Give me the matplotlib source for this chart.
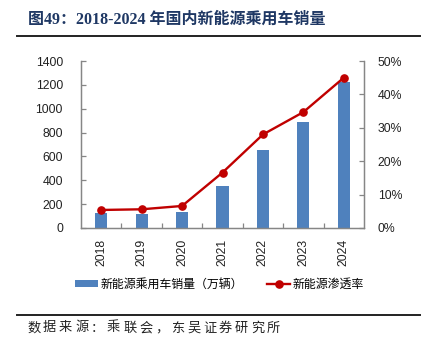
import matplotlib
matplotlib.use("Agg")
import matplotlib.pyplot as plt
import numpy as np
from matplotlib.ticker import FuncFormatter

plt.rcParams['font.family'] = ['Liberation Sans', 'Noto Sans CJK SC']

# --- data ---
years = ['2018', '2019', '2020', '2021', '2022', '2023', '2024']
sales = [125, 120, 131, 351, 650, 890, 1225]          # 万辆
penetration = [5.4, 5.6, 6.6, 16.6, 28.0, 34.7, 45.0]  # %

bar_label = '新能源乘用车销量（万辆）'
line_label = '新能源渗透率'
title = '图49：2018-2024 年国内新能源乘用车销量'
source = '数据来源：乘联会，东吴证券研究所'

BLUE = '#4F81BD'
RED = '#C00000'
AXC = '#868686'
NAVY = '#1F3864'

W, H = 422, 355
fig = plt.figure(figsize=(W/100, H/100), dpi=100)

ax = fig.add_axes([81/W, 1-228/H, (364-81)/W, (228-61)/H])
x = np.arange(len(years))
bars = ax.bar(x, sales, width=0.3, color=BLUE, label=bar_label, zorder=2)
ax.set_xlim(-0.5, len(years)-0.5)
ax.set_ylim(0, 1400)
ax.set_yticks(np.arange(0, 1401, 200))

ax2 = ax.twinx()
line, = ax2.plot(x, penetration, color=RED, lw=1.7, marker='o', ms=5.2,
                 label=line_label, zorder=3)
ax2.set_ylim(0, 50)
ax2.set_yticks(np.arange(0, 51, 10))
ax2.yaxis.set_major_formatter(FuncFormatter(lambda v, p: f'{int(v)}%'))

for a in (ax, ax2):
    for s in a.spines.values():
        s.set_color(AXC)
        s.set_linewidth(0.9)
    a.spines['top'].set_visible(False)

ax.set_xticks(x)
ax.set_xticklabels(years, rotation=90)
ax.set_xticks(np.arange(0.5, len(years)-0.5, 1), minor=True)
ax.tick_params(axis='x', which='major', length=0, pad=8, labelsize=8.8, labelcolor='#222222')
ax.tick_params(axis='x', which='minor', direction='in', length=3.5, color=AXC, width=0.9)
ax.tick_params(axis='y', direction='in', length=3.5, color=AXC, width=0.9,
               pad=13, labelsize=8.8, labelcolor='#222222')
ax2.tick_params(axis='y', direction='in', length=3.5, color=AXC, width=0.9,
                pad=10, labelsize=8.8, labelcolor='#222222')

fig.legend(handles=[bars, line], labels=[bar_label, line_label],
           loc='center', bbox_to_anchor=(219/W, 1-285/H), ncol=2, frameon=False,
           fontsize=8.6, handlelength=2.0, handletextpad=0.15, columnspacing=2.0,
           handleheight=0.55)

# title and rules
fig.text(28/W, 1-20/H, title, fontsize=11.5, fontweight='bold', color=NAVY,
         family=['Liberation Serif', 'Noto Sans CJK SC'], va='center', ha='left')
fig.add_artist(plt.Line2D([17/W, 420/W], [1-36/H, 1-36/H], color='#222222', lw=1.4))
fig.add_artist(plt.Line2D([17/W, 420/W], [1-315/H, 1-315/H], color='#222222', lw=1.4))

# source line, spaced like the original
for i, ch in enumerate(source):
    fig.text((27 + i*16)/W, 1-328/H, ch, fontsize=9.5, color='#222222',
             family=['Noto Sans CJK SC'], va='center', ha='left')

fig.savefig('out.png', dpi=100)
